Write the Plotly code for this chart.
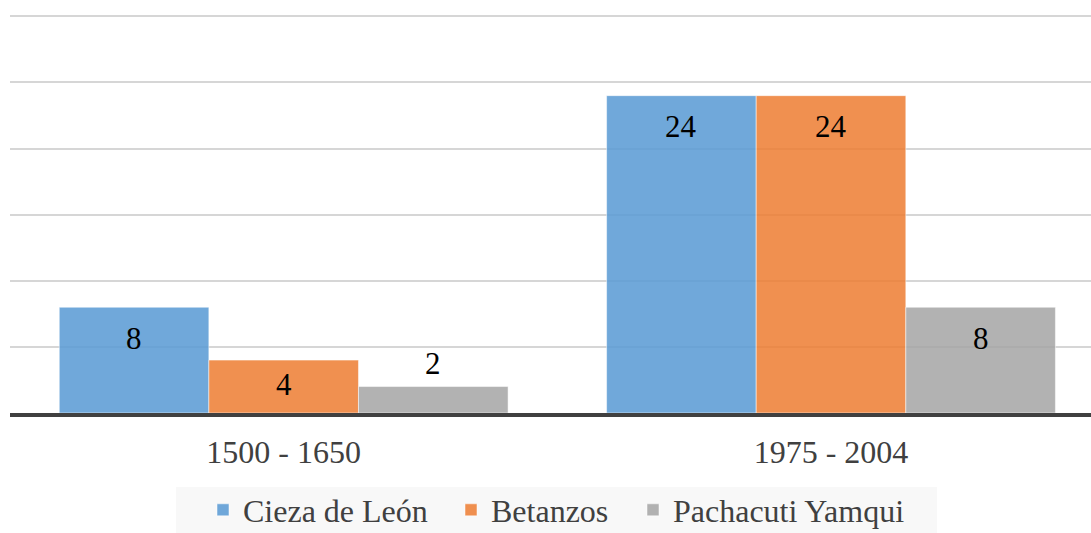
import plotly.graph_objects as go

categories = ["1500 - 1650", "1975 - 2004"]
series_names = ["Cieza de León", "Betanzos", "Pachacuti Yamqui"]
cieza = [8, 24]
betanzos = [4, 24]
pachacuti = [2, 8]
values = [cieza, betanzos, pachacuti]
colors = ["rgba(91,155,213,0.87)", "rgba(237,125,49,0.85)", "rgba(165,165,165,0.85)"]

W, H = 1091, 533
ML, MR, MT, MB = 10, 0, 15, 120
PW = W - ML - MR
PH = H - MT - MB
XR = [-0.5, 1.475]
YR = [0, 30.1]
BARGAP = 0.18
FONT = "Liberation Serif"
FS_LABEL = 31
FS = 32

fig = go.Figure()
for i, (name, vals, col) in enumerate(zip(series_names, values, colors)):
    fig.add_trace(go.Bar(
        x=categories, y=vals, name=name,
        marker=dict(color=col, line=dict(color="rgba(255,255,255,0.5)", width=1)),
        legend="legend" if i == 0 else f"legend{i+1}",
    ))

# data labels (Excel-style placement)
px_per_x = PW / (XR[1] - XR[0])
px_per_y = PH / (YR[1] - YR[0])
slot = (1 - BARGAP) * px_per_x / len(series_names)
annotations = []
for i, vals in enumerate(values):
    for c, v in zip(categories, vals):
        h = v * px_per_y
        if h >= 62:
            ys = -31
        elif h >= 40:
            ys = -h / 2 + 2
        else:
            ys = 23
        annotations.append(dict(
            x=c, y=v, xref="x", yref="y", text=str(v), showarrow=False,
            xshift=(i - 1) * slot, yshift=ys, yanchor="middle",
            font=dict(family=FONT, size=FS_LABEL, color="#000000"),
        ))

def px2paper_x(px):
    return (px - ML) / PW

def px2paper_y(py):
    return (H - MB - py) / PH

legend_starts = [203, 451, 633]
common_leg = dict(orientation="h", xref="container", yref="container",
                  xanchor="left", yanchor="middle", y=1 - 510 / H,
                  bgcolor="rgba(0,0,0,0)", font=dict(family=FONT, size=FS, color="#404040"))
layout_legends = {}
for i, sx in enumerate(legend_starts):
    key = "legend" if i == 0 else f"legend{i+1}"
    layout_legends[key] = dict(x=sx / W, **common_leg)

fig.update_layout(
    width=W, height=H,
    margin=dict(l=ML, r=MR, t=MT, b=MB, pad=0),
    paper_bgcolor="white", plot_bgcolor="white",
    barmode="group", bargap=BARGAP, bargroupgap=0,
    showlegend=True,
    annotations=annotations,
    shapes=[dict(type="rect", xref="paper", yref="paper",
                 x0=px2paper_x(176), x1=px2paper_x(937),
                 y0=px2paper_y(534), y1=px2paper_y(487),
                 fillcolor="#f8f8f8", line=dict(width=0), layer="below")],
    xaxis=dict(range=XR, showgrid=False, showline=True, linecolor="#404040", linewidth=4,
               ticks="", tickfont=dict(family=FONT, size=FS, color="#404040"),
               ticklabelstandoff=8, zeroline=False, fixedrange=True, automargin=False),
    yaxis=dict(range=YR, dtick=5, showgrid=True, gridcolor="#d6d6d6", gridwidth=1.5,
               showticklabels=False, zeroline=False, showline=False, fixedrange=True,
               automargin=False),
    **layout_legends,
)

fig.write_html(
    "out.html",
    config={"displayModeBar": False},
    post_script="document.body.style.margin='0';document.body.style.overflow='hidden';",
)
